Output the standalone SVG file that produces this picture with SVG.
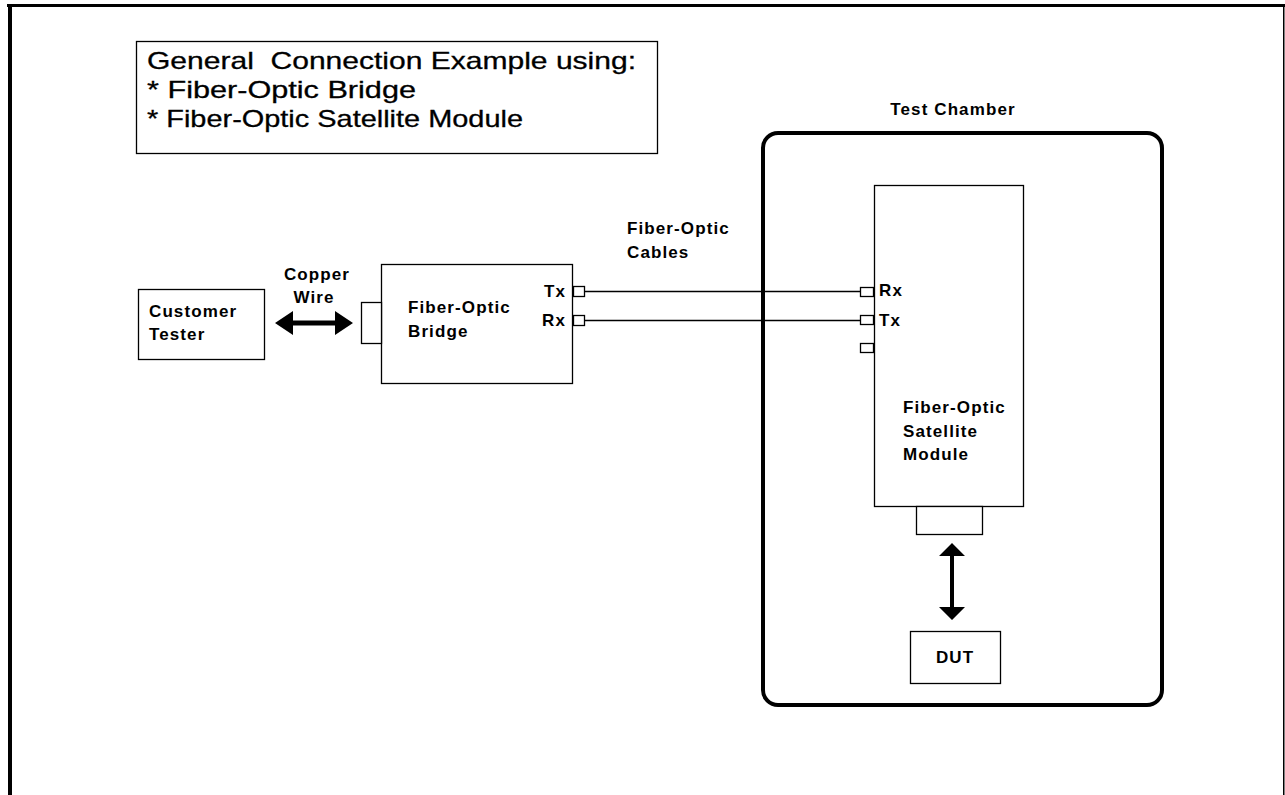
<svg xmlns="http://www.w3.org/2000/svg" width="1285" height="795" viewBox="0 0 1285 795">
<style>
.box{fill:#fff;stroke:#000;stroke-width:1.3}
.lbl{font-family:"Liberation Sans",Arial,sans-serif;font-weight:bold;font-size:17px;letter-spacing:1.1px;fill:#000}
.ttl{font-family:"Liberation Sans",Arial,sans-serif;font-size:24px;fill:#000;stroke:#000;stroke-width:0.3}
.wire{stroke:#000;stroke-width:1.3;fill:none}
</style>
<rect x="0" y="0" width="1285" height="795" fill="#fff"/>
<g id="frame">
<rect x="7" y="4" width="1278" height="3" fill="#000"/>
<rect x="8" y="4" width="4" height="791" fill="#000"/>
<rect x="1283" y="4" width="1.5" height="791" fill="#000"/>
</g>
<g id="title">
<rect class="box" x="136.5" y="41.5" width="521" height="112"/>
<text class="ttl" x="147" y="69" textLength="489" lengthAdjust="spacingAndGlyphs" xml:space="preserve">General  Connection Example using:</text>
<text class="ttl" x="147" y="98" textLength="269" lengthAdjust="spacingAndGlyphs">* Fiber-Optic Bridge</text>
<text class="ttl" x="147" y="127" textLength="376" lengthAdjust="spacingAndGlyphs">* Fiber-Optic Satellite Module</text>
</g>
<g id="customer-tester">
<rect class="box" x="138.5" y="289.5" width="126" height="70"/>
<text class="lbl" x="149" y="317">Customer</text>
<text class="lbl" x="149" y="340">Tester</text>
</g>
<g id="fiber-optic-bridge">
<rect class="box" x="381.5" y="264.5" width="191" height="119"/>
<rect class="box" x="361.5" y="302.5" width="20" height="41"/>
<text class="lbl" x="408" y="313">Fiber-Optic</text>
<text class="lbl" x="408" y="337">Bridge</text>
<text class="lbl" x="566" y="297" text-anchor="end">Tx</text>
<text class="lbl" x="566" y="326" text-anchor="end">Rx</text>
<rect class="box" x="573.5" y="286.5" width="11" height="10"/>
<rect class="box" x="573.5" y="315.5" width="11" height="10"/>
</g>
<g id="test-chamber">
<text class="lbl" x="953" y="115" text-anchor="middle">Test Chamber</text>
<rect x="763" y="133" width="399" height="572" rx="15" ry="15" fill="none" stroke="#000" stroke-width="4"/>
</g>
<g id="satellite-module">
<rect class="box" x="874.5" y="185.5" width="149" height="321"/>
<rect class="box" x="916.5" y="506.5" width="66" height="28"/>
<rect class="box" x="860.5" y="287.5" width="13" height="9"/>
<rect class="box" x="860.5" y="315.5" width="13" height="9"/>
<rect class="box" x="860.5" y="343.5" width="13" height="9"/>
<text class="lbl" x="879" y="296">Rx</text>
<text class="lbl" x="879" y="326">Tx</text>
<text class="lbl" x="903" y="413">Fiber-Optic</text>
<text class="lbl" x="903" y="437">Satellite</text>
<text class="lbl" x="903" y="460">Module</text>
</g>
<g id="dut">
<rect class="box" x="910.5" y="631.5" width="90" height="52"/>
<text class="lbl" x="955" y="663" text-anchor="middle">DUT</text>
</g>
<g id="connectors">
<line class="wire" x1="585" y1="291.5" x2="860" y2="291.5"/>
<line class="wire" x1="585" y1="320.5" x2="860" y2="320.5"/>
<polygon points="275,323 293,311 293,320.5 335,320.5 335,311 353,323 335,335 335,325.5 293,325.5 293,335" fill="#000"/>
<polygon points="952,543 965,556 954,556 954,607 965,607 952,620 939,607 950,607 950,556 939,556" fill="#000"/>
<text class="lbl" x="317" y="280" text-anchor="middle">Copper</text>
<text class="lbl" x="314" y="303" text-anchor="middle">Wire</text>
<text class="lbl" x="627" y="234">Fiber-Optic</text>
<text class="lbl" x="627" y="258">Cables</text>
</g>
</svg>
